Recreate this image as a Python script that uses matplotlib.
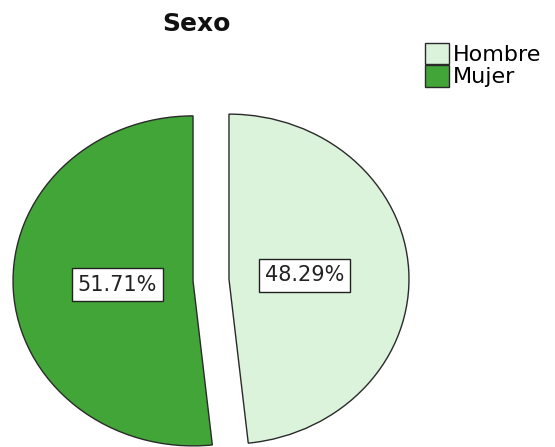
import matplotlib.pyplot as plt

# porcentajes por sexo
labels = ['Hombre', 'Mujer']
values = [48.29, 51.71]
colors = ['#daf3da', '#42a538']

fig = plt.figure(figsize=(5.55, 4.47), dpi=100)
# el eje se estira un poco en horizontal: la torta queda ovalada
ax = fig.add_axes([31 / 555, 2 / 447, 360 / 555, 330 / 447])

wedges, texts, autotexts = ax.pie(
    values, colors=colors, startangle=90, counterclock=False,
    explode=[0.1, 0.1], autopct='%.2f%%', pctdistance=0.42,
    wedgeprops=dict(edgecolor='#2a2a2a', linewidth=1.0),
    textprops=dict(fontsize=15, color='#222222'))
for t in autotexts:
    t.set_bbox(dict(facecolor='white', edgecolor='#222222', linewidth=1.0, pad=4.5))

ax.set_aspect('auto')
ax.set_xlim(-1, 1)
ax.set_ylim(-1, 1)
ax.axis('off')

fig.text(196 / 555, 1 - 24 / 447, 'Sexo', ha='center', va='center',
         fontsize=18, fontweight='bold', color='#111111')

fig.legend(wedges, labels, loc='upper left',
           bbox_to_anchor=(425 / 555, 1 - 43 / 447),
           frameon=False, fontsize=16, handlelength=1.1, handleheight=1.1,
           handletextpad=0.15, labelspacing=0.0, borderpad=0, borderaxespad=0)

fig.savefig('out.png', dpi=100)
